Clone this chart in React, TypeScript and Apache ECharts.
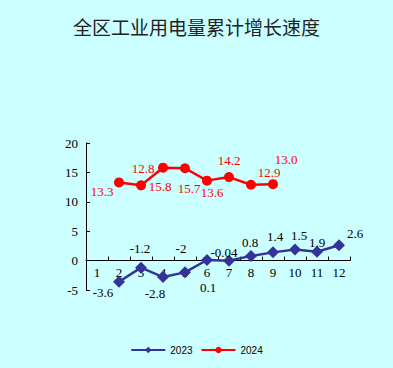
import React, { useEffect, useRef } from "react";
import * as echarts from "echarts";

const months = ["1", "2", "3", "4", "5", "6", "7", "8", "9", "10", "11", "12"];
const values2023: (number | null)[] = [null, -3.6, -1.2, -2.8, -2, 0.1, -0.04, 0.8, 1.4, 1.9, 1.5, 2.6];
const labels2023: string[] = ["", "-3.6", "-1.2", "-2.8", "-2", "0.1", "-0.04", "0.8", "1.4", "1.5", "1.9", "2.6"];
const values2024: (number | null)[] = [null, 13.3, 12.8, 15.8, 15.7, 13.6, 14.2, 12.9, 13.0, null, null, null];
const labels2024: string[] = ["", "13.3", "12.8", "15.8", "15.7", "13.6", "14.2", "12.9", "13.0", "", "", ""];
const yTicks = [-5, 0, 5, 10, 15, 20];

// label offsets (style)
const off2023: number[][] = [[0, 0], [-16, 11], [-1, -19], [-8, 16], [-4, -24], [1, 27], [-5, -8], [-1, -13], [2, -16], [4, -14], [0, -9], [16, -12]];
const off2024: number[][] = [[0, 0], [-17, 9], [2, -17], [-3, 19], [4, 20], [5, 12], [0, -17], [18, -12], [13, -25], [0, 0], [0, 0], [0, 0]];

export default function App() {
  const ref = useRef<HTMLDivElement>(null);
  useEffect(() => {
    if (!ref.current) return;
    const chart = echarts.init(ref.current, undefined, { renderer: "svg" });
    const H = 368;
    const gTop = 143;
    const gBottom = 78;
    const yMin = yTicks[0];
    const yMax = yTicks[yTicks.length - 1];
    const plotH = H - gTop - gBottom;
    // second grid whose bottom edge sits on the zero line of the value axis
    const zeroBottom = gBottom + ((0 - yMin) / (yMax - yMin)) * plotH;
    const mk = (vals: (number | null)[], labs: string[], offs: number[][], color: string) =>
      vals.map((v, i) => ({
        value: v,
        label: {
          show: v !== null,
          position: "inside",
          offset: offs[i],
          formatter: () => labs[i],
          color,
          textBorderWidth: 0,
          textBorderColor: "transparent",
          fontFamily: "Liberation Serif",
          fontSize: 13,
        },
      }));
    chart.setOption({
      animation: false,
      backgroundColor: "#CCFFFF",
      title: {
        text: "全区工业用电量累计增长速度",
        left: "center",
        top: 12,
        textStyle: { fontFamily: "Noto Sans CJK SC", fontSize: 19, fontWeight: "normal", color: "#222" },
      },
      legend: {
        bottom: 8,
        left: "center",
        itemWidth: 34,
        itemHeight: 8,
        itemGap: 8,
        textStyle: { fontFamily: "Liberation Sans", fontSize: 10, color: "#000" },
        data: ["2023", "2024"],
      },
      grid: [
        { left: 86, right: 43, top: gTop, bottom: gBottom, containLabel: false },
        { left: 86, right: 43, top: gTop, bottom: zeroBottom, containLabel: false },
      ],
      xAxis: [
        {
          type: "category",
          gridIndex: 0,
          data: months,
          boundaryGap: true,
          axisLine: { show: false },
          axisTick: { show: false },
          axisLabel: { show: false },
          splitLine: { show: false },
        },
        {
          type: "category",
          gridIndex: 1,
          data: months,
          boundaryGap: true,
          position: "bottom",
          axisLine: { show: true, onZero: false, lineStyle: { color: "#000", width: 1 } },
          axisTick: { show: true, inside: true, length: 4, lineStyle: { color: "#000" } },
          axisLabel: { color: "#000", fontFamily: "Liberation Serif", fontSize: 13, margin: 5 },
          splitLine: { show: false },
        },
      ],
      yAxis: [
        {
          type: "value",
          gridIndex: 0,
          min: yMin,
          max: yMax,
          interval: 5,
          axisLine: { show: true, onZero: false, lineStyle: { color: "#000", width: 1 } },
          axisTick: { show: true, inside: true, length: 4, lineStyle: { color: "#000" } },
          axisLabel: { color: "#000", fontFamily: "Liberation Serif", fontSize: 13, margin: 8 },
          splitLine: { show: false },
        },
        {
          type: "value",
          gridIndex: 1,
          show: false,
        },
      ],
      series: [
        {
          name: "2023",
          type: "line",
          xAxisIndex: 0,
          yAxisIndex: 0,
          data: mk(values2023, labels2023, off2023, "#000"),
          symbol: "diamond",
          symbolSize: 12,
          lineStyle: { color: "#333399", width: 2.5 },
          itemStyle: { color: "#333399" },
          connectNulls: false,
          z: 3,
        },
        {
          name: "2024",
          type: "line",
          xAxisIndex: 0,
          yAxisIndex: 0,
          data: mk(values2024, labels2024, off2024, "#FF0000"),
          symbol: "circle",
          symbolSize: 10,
          lineStyle: { color: "#FF0000", width: 2.5 },
          itemStyle: { color: "#FF0000" },
          z: 3,
        },
      ],
    });
    return () => chart.dispose();
  }, []);
  return (
    <div
      ref={ref}
      style={{ position: "fixed", left: 0, top: 0, width: 393, height: 368 }}
    />
  );
}
